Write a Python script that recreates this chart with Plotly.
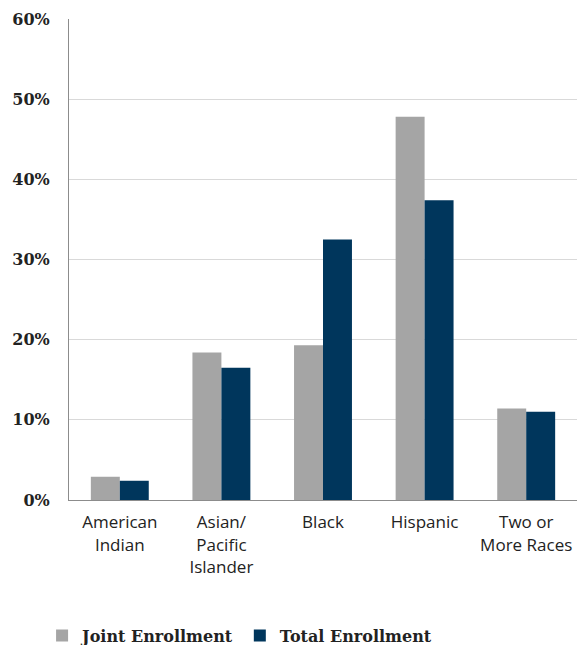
import plotly.graph_objects as go

categories = ["American<br>Indian", "Asian/<br>Pacific<br>Islander", "Black", "Hispanic", "Two or<br>More Races"]
joint_enrollment = [0.029, 0.184, 0.193, 0.478, 0.114]
total_enrollment = [0.024, 0.165, 0.325, 0.374, 0.110]
y_ticks = [0, 0.1, 0.2, 0.3, 0.4, 0.5, 0.6]
y_tick_labels = ["0%", "10%", "20%", "30%", "40%", "50%", "60%"]

fig = go.Figure()
fig.add_trace(go.Bar(name="Joint Enrollment", x=categories, y=joint_enrollment,
                     marker=dict(color="#A5A5A5", line=dict(width=0))))
fig.add_trace(go.Bar(name="Total Enrollment", x=categories, y=total_enrollment,
                     marker=dict(color="#00365C", line=dict(width=0))))

fig.update_layout(
    width=584, height=645,
    margin=dict(l=69, r=7, t=19, b=145, autoexpand=False),
    paper_bgcolor="white", plot_bgcolor="white",
    barmode="group", bargap=0.43, bargroupgap=0,
    showlegend=True,
    legend=dict(orientation="h", x=-0.053, xanchor="left", y=-0.282, yanchor="middle",
                font=dict(family="DejaVu Serif", size=16, color="#222222", weight="bold"),
                itemwidth=30, traceorder="normal"),
    xaxis=dict(showline=True, linecolor="#8C8C8C", linewidth=1, showgrid=False,
               tickfont=dict(family="Open Sans", size=17, color="#222222"),
               ticks="", ticklabelstandoff=7, automargin=False),
    yaxis=dict(range=[0, 0.6], tickvals=y_ticks, ticktext=y_tick_labels,
               showline=True, linecolor="#8C8C8C", linewidth=1,
               showgrid=True, gridcolor="#D9D9D9", gridwidth=1,
               tickfont=dict(family="DejaVu Serif", size=16, color="#222222", weight="bold"),
               ticks="", ticklabelstandoff=15, zeroline=False, automargin=False),
)
fig.write_html("out.html", config={"displayModeBar": False},
               post_script="document.body.style.margin='0';document.body.style.overflow='hidden';")
